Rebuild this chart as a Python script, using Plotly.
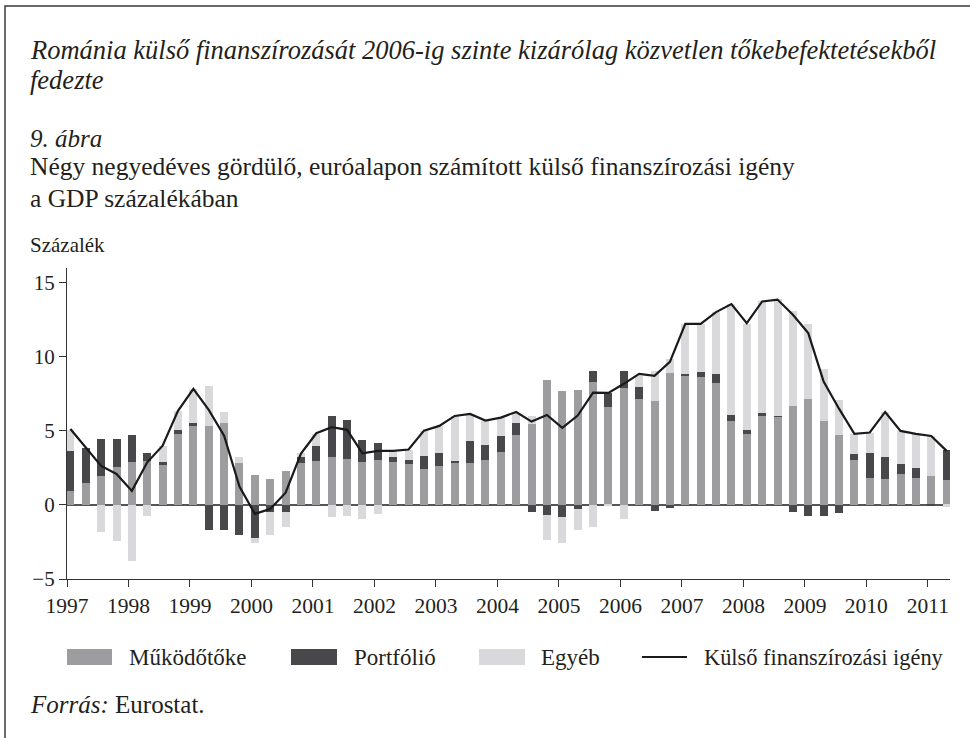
import plotly.graph_objects as go

# ---------------- data (percent of GDP, four-quarter rolling) ----------------
years = list(range(1997, 2012))
quarters = [1, 2, 3, 4]
periods = [(y, q) for y in years for q in quarters][:58]   # 1997 Q1 - 2011 Q2

mukodotoke = [0.97, 1.46, 1.98, 2.57, 2.91, 2.97, 2.72, 4.82, 5.36, 5.36, 5.54, 2.86,
              2.03, 1.76, 2.30, 2.84, 2.97, 3.24, 3.11, 2.90, 3.04, 2.90, 2.77, 2.43,
              2.64, 2.84, 2.84, 3.04, 3.58, 4.73, 5.47, 8.45, 7.70, 7.77, 8.31, 6.62,
              7.90, 7.16, 7.03, 8.92, 8.72, 8.65, 8.24, 5.68, 4.82, 6.04, 5.97, 6.71,
              7.16, 5.68, 4.73, 3.04, 1.82, 1.76, 2.09, 1.82, 1.96, 1.69]
portfolio = [2.64, 2.41, 2.48, 1.89, 1.82, 0.54, 0.18, 0.25, 0.18, -1.67, -1.67, -2.00,
             -2.20, -0.45, -0.45, 0.41, 1.01, 2.77, 2.64, 1.49, 1.15, 0.34, 0.27, 0.88,
             0.88, 0.14, 1.49, 1.01, 1.08, 0.81, -0.47, -0.68, -0.81, -0.27, 0.74, 0.95,
             1.15, 0.81, -0.38, -0.20, 0.14, 0.34, 0.61, 0.41, 0.25, 0.18, 0.07, -0.45,
             -0.72, -0.72, -0.52, 0.41, 1.69, 1.49, 0.68, 0.68, -0.05, 2.03]
egyeb = [1.46, 0.00, -1.80, -2.41, -3.76, -0.72, 1.10, 1.28, 2.30, 2.68, 0.74, 0.38,
         -0.38, -1.58, -1.01, 0.23, 0.81, -0.81, -0.74, -0.95, -0.61, 0.36, 0.65, 1.71,
         1.78, 3.00, 1.82, 1.64, 1.24, 0.70, 0.56, -1.67, -1.73, -1.40, -1.46, -0.10,
         -0.92, 0.74, 2.03, 0.95, 3.38, 3.24, 4.17, 7.48, 7.16, 7.52, 7.84, 6.40,
         5.07, 3.47, 2.36, 1.35, 1.37, 3.04, 2.23, 2.30, 2.70, -0.11]
kulso_igeny = [5.13, 3.87, 2.64, 2.09, 0.95, 2.88, 4.00, 6.35, 7.84, 6.42, 4.68, 1.24,
               -0.60, -0.27, 0.83, 3.47, 4.84, 5.25, 5.07, 3.49, 3.65, 3.65, 3.74, 5.02,
               5.34, 6.01, 6.15, 5.70, 5.90, 6.28, 5.63, 6.08, 5.20, 6.04, 7.59, 7.57,
               8.18, 8.85, 8.72, 9.66, 12.23, 12.23, 13.02, 13.56, 12.27, 13.74, 13.87, 12.84,
               11.60, 8.33, 6.50, 4.80, 4.89, 6.28, 5.00, 4.80, 4.66, 3.65]

y_ticks = [-5, 0, 5, 10, 15]
y_ticklabels = ["\u22125", "0", "5", "10", "15"]
x_ticks = years
x_ticklabels = [str(y) for y in years]

# ---------------- styling ----------------
C_FDI = "#9d9d9f"
C_PORT = "#48484a"
C_OTHER = "#d9d9db"
C_LINE = "#1a1a1a"
FONT = "Liberation Serif"
TXT = "#231f20"

W, H = 970, 738
L, R, T, B = 67, 20, 268, 159
PW, PH = W - L - R, H - T - B


def px(xpix):
    return (xpix - L) / PW


def py(ypix):
    return (H - B - ypix) / PH


x = [yr + (q - 1) / 4 + 0.055 for yr, q in periods]

fig = go.Figure()
for name, vals, col in [("Működőtőke", mukodotoke, C_FDI),
                        ("Portfólió", portfolio, C_PORT),
                        ("Egyéb", egyeb, C_OTHER)]:
    fig.add_trace(go.Bar(x=x, y=vals, name=name, marker_color=col,
                         marker_line_width=0, width=0.13, showlegend=False))
fig.add_trace(go.Scatter(x=x, y=kulso_igeny, name="Külső finanszírozási igény",
                         mode="lines", line=dict(color=C_LINE, width=2.2),
                         showlegend=False))

shapes = []
# outer frame (only top and left edges visible in the window)
shapes.append(dict(type="rect", xref="paper", yref="paper",
                   x0=px(5), x1=px(W + 20), y0=py(H + 20), y1=py(6),
                   line=dict(color="#3a3a3a", width=1.5), layer="below"))

annotations = []


def txt(text, xpix, ypix, size, italic=False):
    annotations.append(dict(text=text, xref="paper", yref="paper",
                            x=px(xpix), y=py(ypix), xanchor="left", yanchor="middle",
                            showarrow=False,
                            font=dict(family=FONT, size=size, color=TXT,
                                      style="italic" if italic else "normal")))


txt("Románia külső finanszírozását 2006-ig szinte kizárólag közvetlen tőkebefektetésekből",
    28, 50, 26.5, italic=True)
txt("fedezte", 28, 80, 26.5, italic=True)
txt("9. ábra", 28, 138, 25, italic=True)
txt("Négy negyedéves gördülő, euróalapon számított külső finanszírozási igény", 28, 167, 25.5)
txt("a GDP százalékában", 28, 198, 25.5)
txt("Százalék", 28, 245, 21)
annotations.append(dict(text="<i>Forrás:</i> Eurostat.", xref="paper", yref="paper",
                        x=px(28), y=py(704), xanchor="left", yanchor="middle",
                        showarrow=False, font=dict(family=FONT, size=25, color=TXT)))

# legend
LEG_Y = 657
for (x0, x1), col, label, tx in [((67, 112), C_FDI, "Működőtőke", 127),
                                 ((291, 337), C_PORT, "Portfólió", 352),
                                 ((479, 525), C_OTHER, "Egyéb", 539)]:
    shapes.append(dict(type="rect", xref="paper", yref="paper",
                       x0=px(x0), x1=px(x1), y0=py(LEG_Y + 8), y1=py(LEG_Y - 8),
                       fillcolor=col, line_width=0))
    txt(label, tx, LEG_Y, 23)
shapes.append(dict(type="line", xref="paper", yref="paper",
                   x0=px(642), x1=px(687), y0=py(LEG_Y), y1=py(LEG_Y),
                   line=dict(color=C_LINE, width=2)))
txt("Külső finanszírozási igény", 702, LEG_Y, 22.4)

fig.update_layout(
    width=W, height=H,
    margin=dict(l=L, r=R, t=T, b=B, pad=0),
    paper_bgcolor="white", plot_bgcolor="white",
    barmode="relative", bargap=0,
    font=dict(family=FONT, size=21, color=TXT),
    shapes=shapes, annotations=annotations,
    showlegend=False,
)
fig.update_xaxes(range=[1997, 2011.36], tickvals=x_ticks, ticktext=x_ticklabels,
                 ticks="outside", ticklen=7, tickwidth=1, tickcolor="#333",
                 showline=True, linecolor="#333", linewidth=1.2,
                 showgrid=False, zeroline=False, tickfont=dict(size=21.5))
fig.update_yaxes(range=[-5, 16], tickvals=y_ticks, ticktext=y_ticklabels,
                 ticks="outside", ticklen=7, tickwidth=1, tickcolor="#333",
                 showline=True, linecolor="#333", linewidth=1.2,
                 showgrid=False, zeroline=True, zerolinecolor="#555",
                 zerolinewidth=1.6, tickfont=dict(size=21))

fig.write_html("out.html",
               config={"displayModeBar": False},
               post_script="document.body.style.margin='0';"
                           "document.body.style.overflow='hidden';")
